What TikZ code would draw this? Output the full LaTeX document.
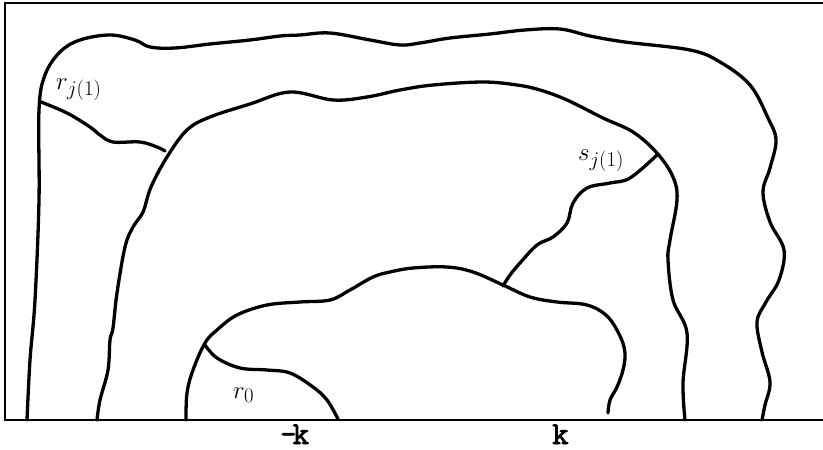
\documentclass[tikz,border=0pt]{standalone}
\usepackage{fontspec}
\newfontfamily\kfont[AutoFakeBold=2.5]{Latin Modern Mono}
\DeclareMathSizes{30}{30}{22}{16}
\begin{document}
\begin{tikzpicture}[x=1pt,y=-1pt,
  curve/.style={line width=3.3pt,line cap=round,line join=round},
  frameline/.style={line width=2.4pt},
  lbl/.style={inner sep=0pt,anchor=base west,font=\fontsize{30}{34}\selectfont},
  klbl/.style={inner sep=0pt,anchor=base west,font=\kfont\bfseries\fontsize{32}{34}\selectfont}]
\useasboundingbox (0,0) rectangle (823,450);
% frame
\draw[frameline] (823,3) -- (5,3) -- (5,420) -- (823,420);
% outer curve
\draw[curve] plot[smooth,tension=0.6] coordinates {(27,420) (30,360) (35,300) (39,200) (39,110) (45,75) (60,52) (80,40) (110,35) (135,40) (150,47) (175,48) (210,44) (250,40) (280,36) (300,35) (330,33) (370,40) (400,45) (420,43) (450,38) (490,34) (525,30) (560,29) (590,36) (625,42) (690,50) (720,62) (750,85) (768,118) (776,140) (770,168) (763,192) (770,222) (784,250) (779,280) (766,302) (757,322) (762,352) (770,382) (765,405) (762,420)};
% branch r_j(1)
\draw[curve] plot[smooth,tension=0.6] coordinates {(41,102) (67,113) (90,127) (100,135) (113,142) (140,142) (157,147) (165,151)};
% second curve
\draw[curve] plot[smooth,tension=0.6] coordinates {(97,420) (100,400) (108,370) (110,340) (113,328) (117,293) (125,247) (133,227) (143,212) (151,187) (167,157) (187,130) (210,117) (250,104) (290,92) (333,100) (367,97) (400,90) (433,85) (483,82) (517,85) (540,90) (567,100) (603,118) (633,132) (657,153) (673,177) (677,200) (670,240) (668,260) (673,300) (687,333) (683,383) (685,420)};
% branch s_j(1)
\draw[curve] plot[smooth,tension=0.6] coordinates {(657,155) (630,178) (610,183) (587,188) (573,203) (567,223) (553,237) (537,245) (520,263) (510,275) (503,286)};
% inner curve
\draw[curve] plot[smooth,tension=0.6] coordinates {(186,420) (187,393) (193,370) (205,343) (217,330) (237,315) (267,305) (300,302) (330,300) (350,290) (373,277) (390,272) (413,268) (447,267) (473,272) (503,285) (530,297) (557,302) (587,305) (607,316) (620,336) (625,353) (623,370) (617,387) (610,400) (608,413)};
% branch r_0
\draw[curve] plot[smooth,tension=0.6] coordinates {(205,345) (217,358) (240,368) (267,370) (290,373) (313,387) (327,400) (338,419)};
% labels
\node[lbl] (rj) at (56,89) {$r_{j(1)}$};
\node[lbl] (sj) at (578,160) {$s_{j(1)}$};
\node[lbl] (r0) at (233,398) {$r_0$};
\node[klbl] (mk) at (280,444) {-\kern-4pt k};
\node[klbl] (k) at (552,444) {k};
\end{tikzpicture}
\end{document}
